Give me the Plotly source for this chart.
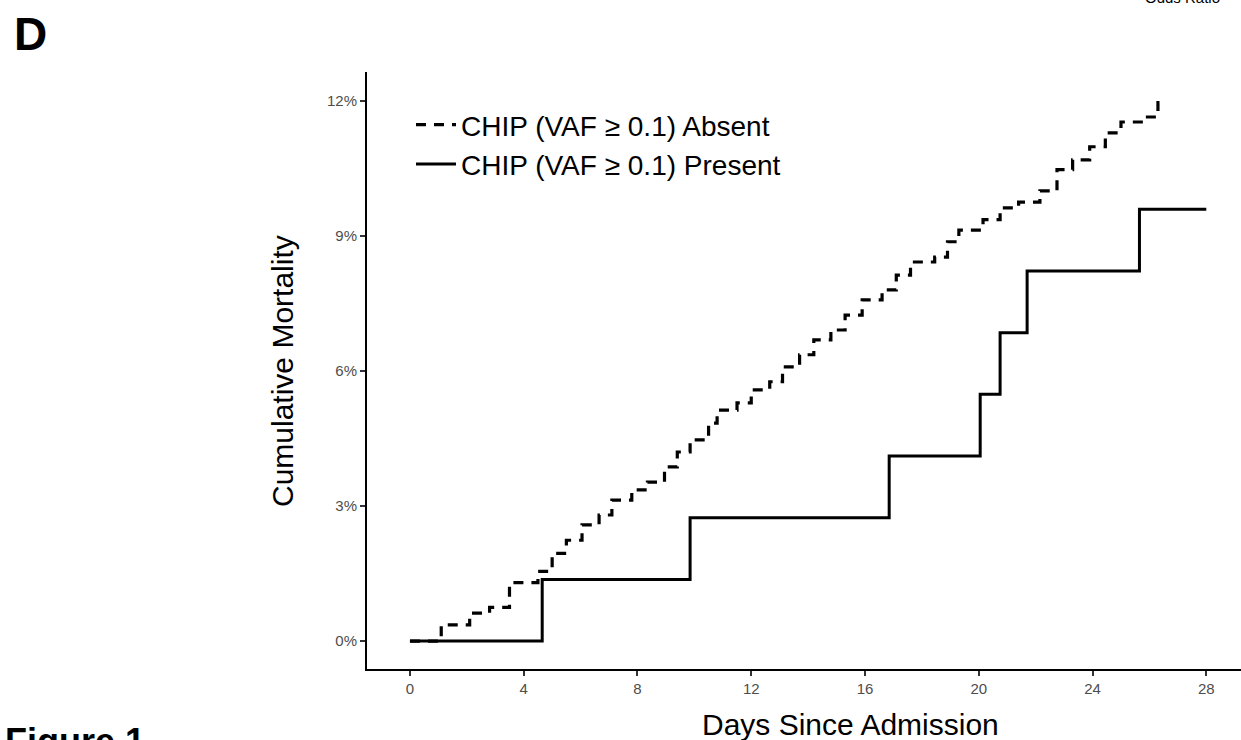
import plotly.graph_objects as go

# ---- data ----
absent_days = [0, 1.1, 2.1, 2.8, 3.5, 4.5, 5.0, 5.5, 6.05, 6.65, 7.1, 7.8, 8.35, 8.95, 9.4, 9.85,
               10.5, 10.8, 11.5, 12.0, 12.65, 13.1, 13.7, 14.2, 14.8, 15.3, 15.9, 16.6, 17.1, 17.6,
               18.45, 18.9, 19.3, 20.15, 20.75, 21.4, 22.15, 22.75, 23.3, 23.9, 24.45, 25.0, 25.8,
               26.3, 26.45]
absent_pct = [0, 0.36, 0.62, 0.75, 1.3, 1.55, 1.95, 2.24, 2.58, 2.8, 3.13, 3.36, 3.53, 3.87, 4.2, 4.47,
              4.84, 5.13, 5.29, 5.58, 5.76, 6.09, 6.36, 6.69, 6.91, 7.24, 7.58, 7.8, 8.13, 8.42,
              8.53, 8.87, 9.13, 9.36, 9.62, 9.75, 10.0, 10.47, 10.69, 10.98, 11.29, 11.53, 11.64,
              11.96, 11.96]

present_days = [0, 4.65, 9.85, 16.85, 20.05, 20.75, 21.7, 25.65, 28]
present_pct = [0, 1.37, 2.74, 4.11, 5.48, 6.85, 8.22, 9.59, 9.59]

x_ticks = [0, 4, 8, 12, 16, 20, 24, 28]
y_ticks = [0, 3, 6, 9, 12]
y_tick_labels = ["0%", "3%", "6%", "9%", "12%"]

series_names = ["CHIP (VAF ≥ 0.1) Absent", "CHIP (VAF ≥ 0.1) Present"]

FONT = "Liberation Sans, Arial, Helvetica, sans-serif"
W, H = 1241, 740
L, R, T, B = 367, 0, 72, 71
pw, ph = W - L - R, H - T - B

def px_x(p):
    return (p - L) / pw

def px_y(p):
    return (H - B - p) / ph

fig = go.Figure()
fig.add_trace(go.Scatter(x=absent_days, y=absent_pct, mode="lines", line_shape="hv",
                         name=series_names[0],
                         line=dict(color="black", width=3.2, dash="10px,8px")))
fig.add_trace(go.Scatter(x=present_days, y=present_pct, mode="lines", line_shape="hv",
                         name=series_names[1],
                         line=dict(color="black", width=3)))

axis_common = dict(showgrid=False, zeroline=False, showline=True, linecolor="black", linewidth=2,
                   ticks="outside", ticklen=5, tickwidth=2, tickcolor="#333333", automargin=False,
                   tickfont=dict(size=15, color="#4d4d4d", family=FONT))

fig.update_layout(
    template="none",
    width=W, height=H,
    margin=dict(l=L, r=R, t=T, b=B, pad=0, autoexpand=False),
    paper_bgcolor="white", plot_bgcolor="white",
    font=dict(family=FONT, color="black"),
    showlegend=True,
    legend=dict(x=px_x(411), y=px_y(100), xanchor="left", yanchor="top",
                bgcolor="rgba(0,0,0,0)", font=dict(size=28, family=FONT, color="black"),
                itemwidth=40, tracegroupgap=0),
    xaxis=dict(range=[-1.51, 29.22], tickvals=x_ticks, ticktext=[str(v) for v in x_ticks],
               **axis_common),
    yaxis=dict(range=[-0.62, 12.64], tickvals=y_ticks, ticktext=y_tick_labels,
               **axis_common),
)

annotations = [
    dict(text="Cumulative Mortality", x=px_x(282), y=px_y(371), textangle=-90,
         font=dict(size=30, family=FONT, color="black")),
    dict(text="Days Since Admission", x=px_x(850), y=px_y(724),
         font=dict(size=30, family=FONT, color="black")),
    dict(text="<b>D</b>", x=px_x(30), y=px_y(34),
         font=dict(size=46, family=FONT, color="black")),
    dict(text="<b>Figure 1</b>", x=px_x(3), y=px_y(742), xanchor="left",
         font=dict(size=36, family=FONT, color="black")),
    dict(text="Odds Ratio", x=px_x(1182), y=px_y(-3),
         font=dict(size=15, family=FONT, color="black")),
]
for a in annotations:
    a.setdefault("xanchor", "center")
    a.update(xref="paper", yref="paper", showarrow=False, yanchor="middle")
fig.update_layout(annotations=annotations)

fig.write_html(
    "out.html",
    config={"displayModeBar": False},
    post_script="document.body.style.margin='0';document.body.style.overflow='hidden';",
)
